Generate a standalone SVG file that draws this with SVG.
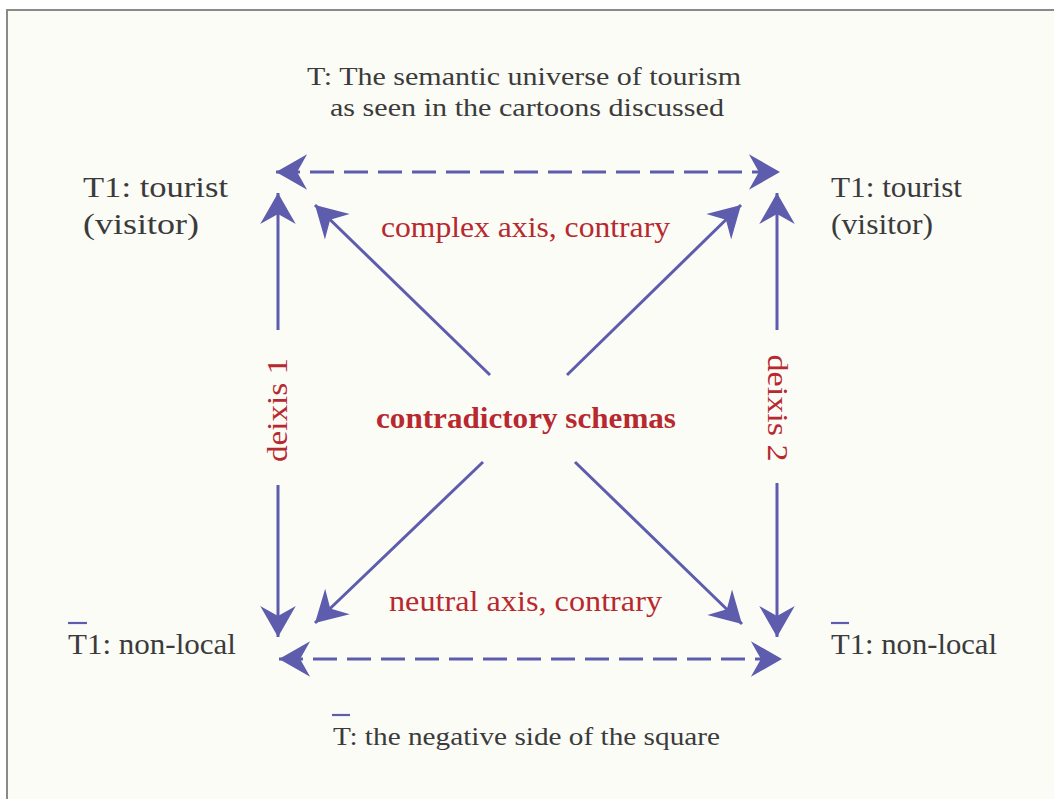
<svg xmlns="http://www.w3.org/2000/svg" width="1054" height="799" viewBox="0 0 1054 799">
<defs>
<style>
.t{font-family:"Liberation Serif","Times New Roman",serif;fill:#3b3b3b;}
.r{font-family:"Liberation Serif","Times New Roman",serif;fill:#b8292f;}
.ln{stroke:#5d5cad;stroke-width:3;fill:none;}
.dash{stroke-dasharray:24 10;}
.bar{stroke:#5d5cad;stroke-width:2.2;}
</style>
<marker id="ah" markerUnits="userSpaceOnUse" markerWidth="40" markerHeight="40" viewBox="-30 -18 32 36" refX="0" refY="0" orient="auto-start-reverse">
<path d="M0,0 L-28,-16 L-19,0 L-28,16 Z" fill="#5d5cad"/>
</marker>
</defs>
<rect x="0" y="0" width="1054" height="799" fill="#ffffff"/>
<rect x="7" y="10" width="1060" height="800" fill="#fcfcf7" stroke="#8a8a8a" stroke-width="2"/>

<g id="connectors">
<line class="ln dash" x1="276" y1="172" x2="780" y2="172" marker-start="url(#ah)" marker-end="url(#ah)"/>
<line class="ln dash" x1="279" y1="659" x2="782" y2="659" marker-start="url(#ah)" marker-end="url(#ah)"/>
<line class="ln" x1="278" y1="330" x2="278" y2="193" marker-end="url(#ah)"/>
<line class="ln" x1="278" y1="485" x2="278" y2="637" marker-end="url(#ah)"/>
<line class="ln" x1="777" y1="330" x2="777" y2="193" marker-end="url(#ah)"/>
<line class="ln" x1="777" y1="483" x2="777" y2="637" marker-end="url(#ah)"/>
<line class="ln" x1="490" y1="375" x2="315" y2="205" marker-end="url(#ah)"/>
<line class="ln" x1="567" y1="375" x2="741" y2="205" marker-end="url(#ah)"/>
<line class="ln" x1="483" y1="462" x2="315" y2="623" marker-end="url(#ah)"/>
<line class="ln" x1="575" y1="462" x2="742" y2="624" marker-end="url(#ah)"/>
</g>

<g id="title">
<text class="t" x="307" y="85" font-size="24.5" textLength="434" lengthAdjust="spacingAndGlyphs">T: The semantic universe of tourism</text>
<text class="t" x="330" y="116" font-size="24.5" textLength="394" lengthAdjust="spacingAndGlyphs">as seen in the cartoons discussed</text>
</g>

<g id="node-tl">
<text class="t" x="83" y="197" font-size="28.5" textLength="145" lengthAdjust="spacingAndGlyphs">T1: tourist</text>
<text class="t" x="83" y="234" font-size="28.5" textLength="116" lengthAdjust="spacingAndGlyphs">(visitor)</text>
</g>
<g id="node-tr">
<text class="t" x="831" y="197" font-size="28.5" textLength="131" lengthAdjust="spacingAndGlyphs">T1: tourist</text>
<text class="t" x="831" y="234" font-size="28.5" textLength="102" lengthAdjust="spacingAndGlyphs">(visitor)</text>
</g>
<g id="node-bl">
<line class="bar" x1="68" y1="623" x2="87" y2="623"/>
<text class="t" x="68" y="654" font-size="28.5" textLength="168" lengthAdjust="spacingAndGlyphs">T1: non-local</text>
</g>
<g id="node-br">
<line class="bar" x1="831" y1="623" x2="849" y2="623"/>
<text class="t" x="831" y="654" font-size="28.5" textLength="166" lengthAdjust="spacingAndGlyphs">T1: non-local</text>
</g>

<g id="label-complex">
<text class="r" x="381" y="237" font-size="28.5" textLength="289" lengthAdjust="spacingAndGlyphs">complex axis, contrary</text>
</g>
<g id="label-center">
<text class="r" x="376" y="428" font-size="28.5" font-weight="bold" textLength="300" lengthAdjust="spacingAndGlyphs">contradictory schemas</text>
</g>
<g id="label-neutral">
<text class="r" x="389" y="611" font-size="28.5" textLength="273" lengthAdjust="spacingAndGlyphs">neutral axis, contrary</text>
</g>
<g id="label-deixis1">
<text class="r" font-size="28.5" text-anchor="middle" transform="translate(287,410) rotate(-90)" textLength="104" lengthAdjust="spacingAndGlyphs">deixis 1</text>
</g>
<g id="label-deixis2">
<text class="r" font-size="28.5" text-anchor="middle" transform="translate(768,408) rotate(90)" textLength="107" lengthAdjust="spacingAndGlyphs">deixis 2</text>
</g>

<g id="footer">
<line class="bar" x1="332" y1="715" x2="350" y2="715"/>
<text class="t" x="333" y="745" font-size="25.5" textLength="387" lengthAdjust="spacingAndGlyphs">T: the negative side of the square</text>
</g>
</svg>
